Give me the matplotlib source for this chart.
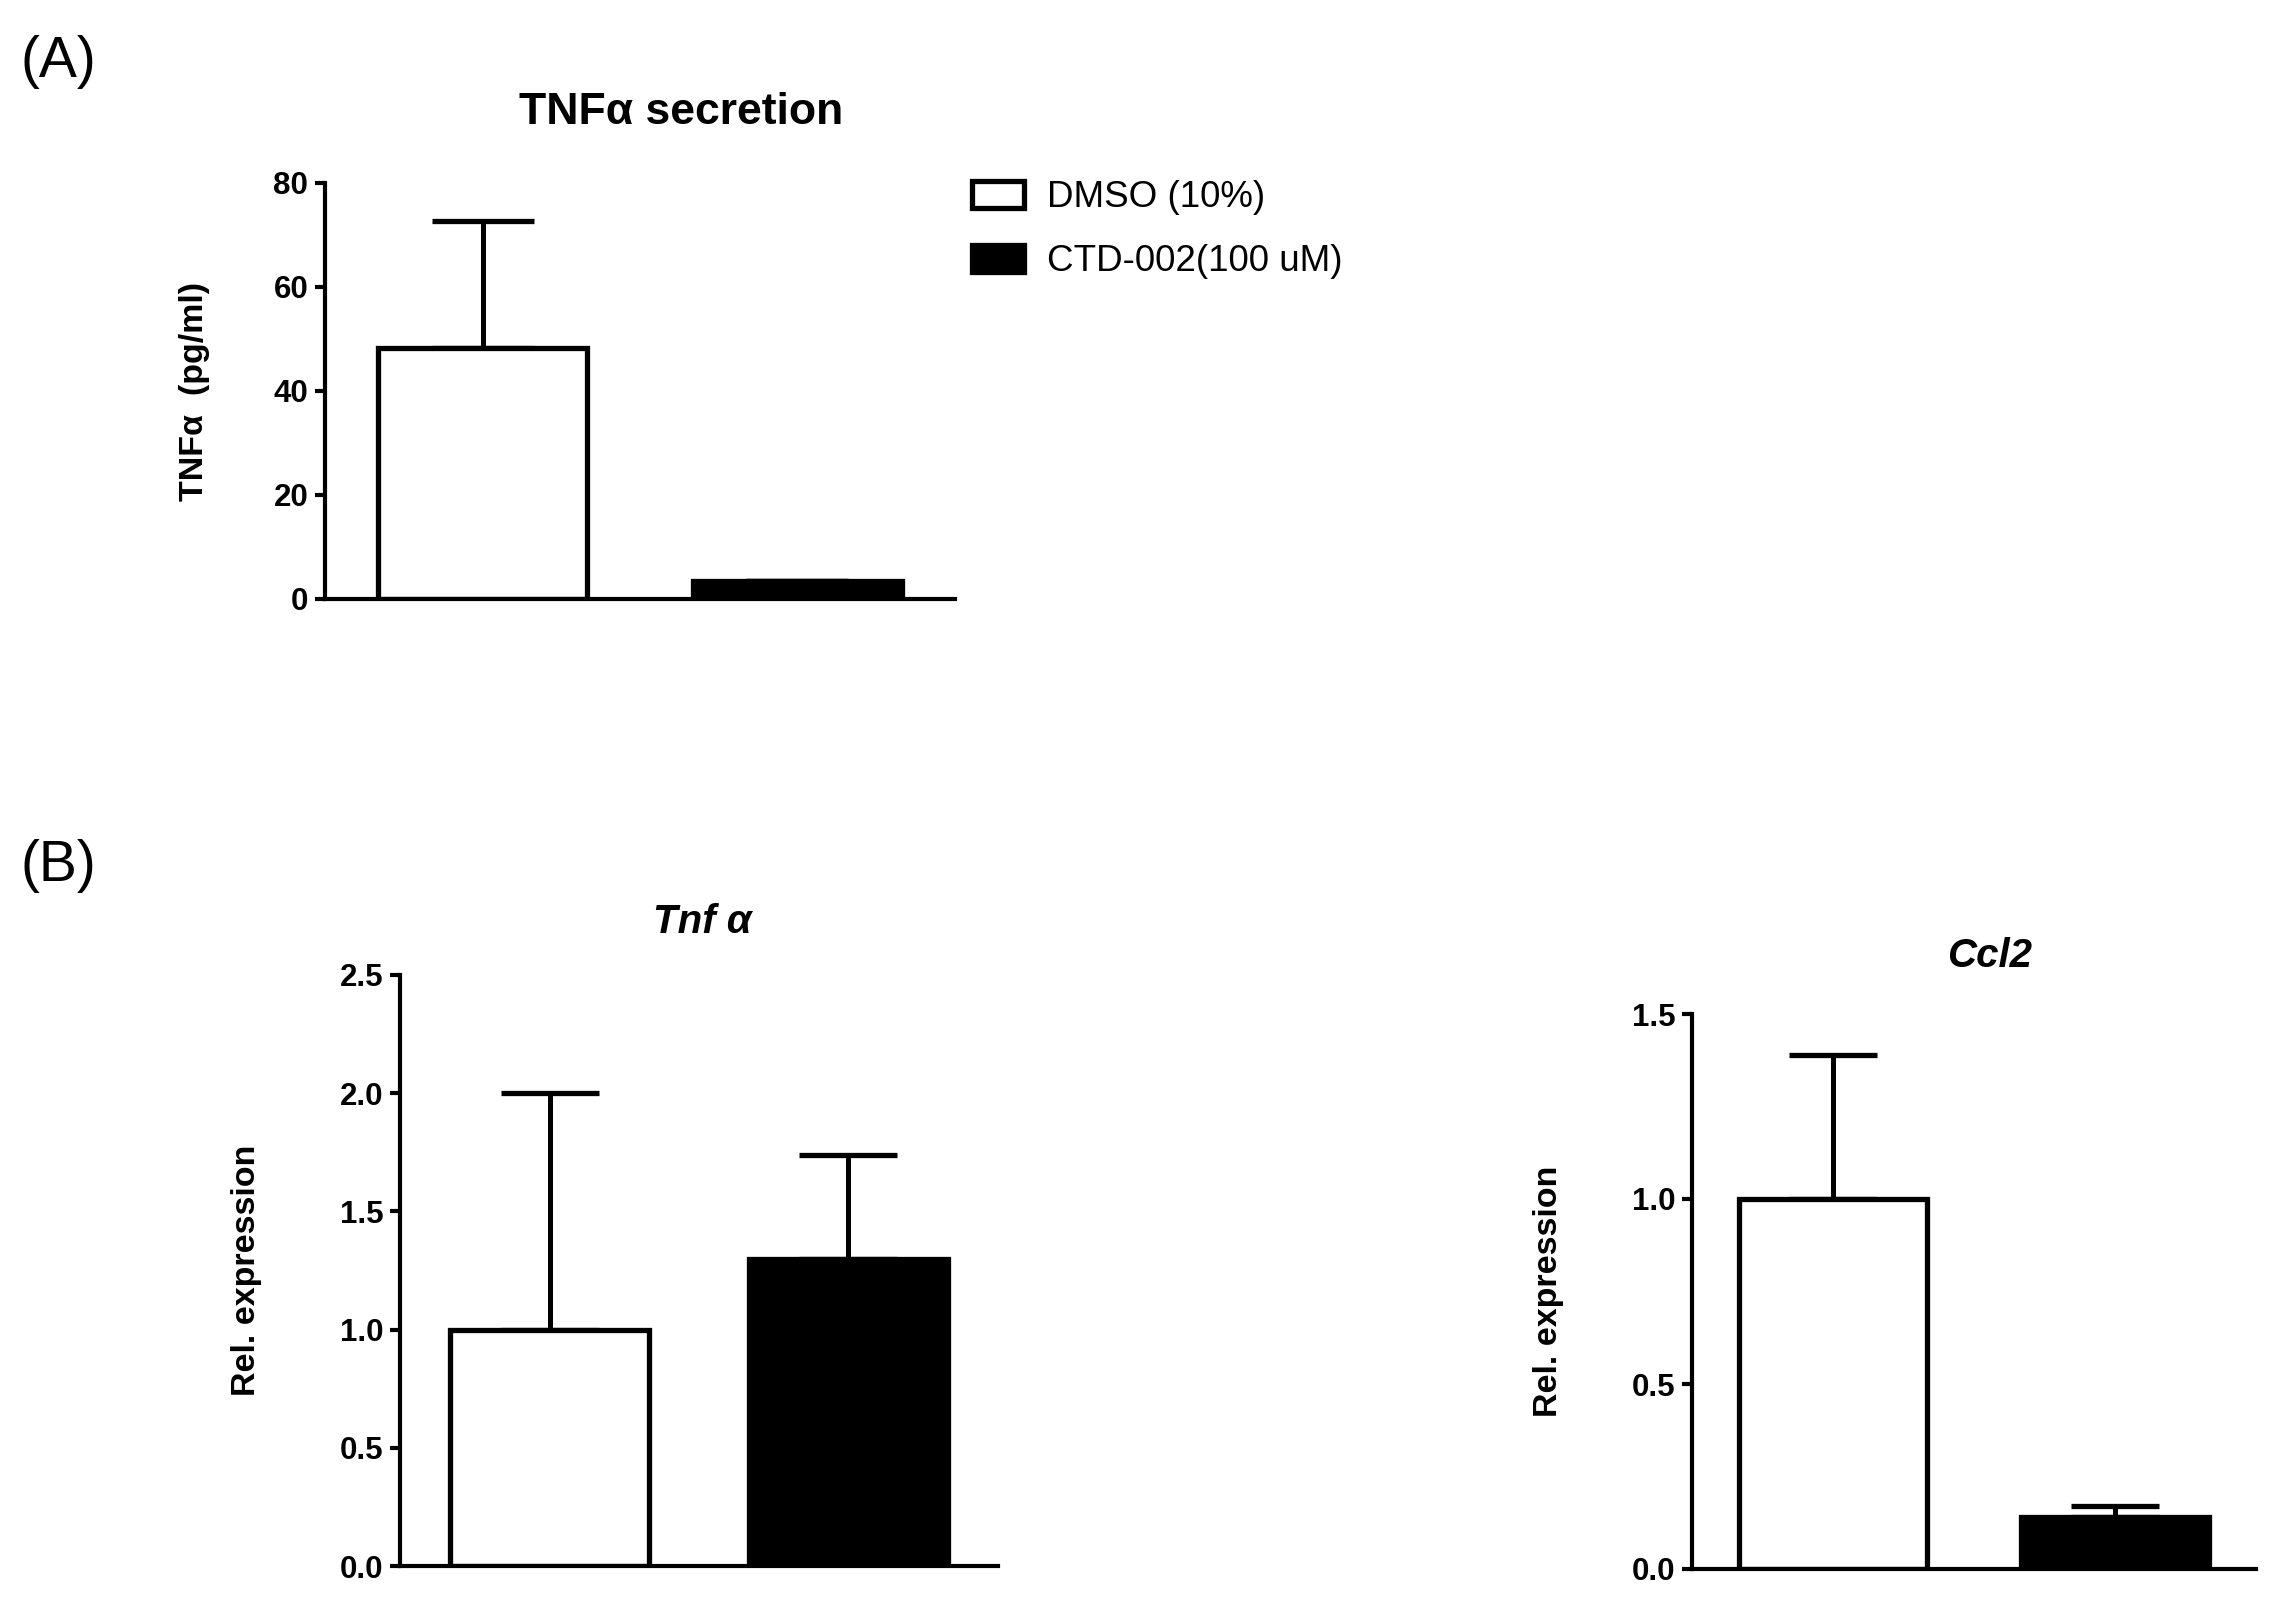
import matplotlib
matplotlib.use('Agg')
import matplotlib.pyplot as plt
import numpy as np

plt.rcParams['font.family'] = ['Liberation Sans', 'DejaVu Sans']

# group labels
groups = ['DMSO (10%)', 'CTD-002(100 uM)']
colors = ['white', 'black']

# (A) TNFa secretion, pg/ml (mean, SD upward)
tnf_secr_mean = [48.3, 3.4]
tnf_secr_err = [24.4, 0.0]

# (B) relative expression
tnfa_mean = [1.0, 1.30]
tnfa_err = [1.0, 0.44]
ccl2_mean = [1.0, 0.14]
ccl2_err = [0.39, 0.03]

W, H = 2281, 1612
fig = plt.figure(figsize=(W / 100, H / 100), dpi=100)


def make_axes(rect, means, errs, ymax, step, fmt, capsize, ylabel, label_x):
    ax = fig.add_axes(rect)
    x = np.array([1, 3])
    ax.errorbar(x, means, yerr=[np.zeros(len(errs)), errs], fmt='none',
                ecolor='black', elinewidth=3.6, capsize=capsize, capthick=3.8,
                zorder=1)
    ax.bar(x, means, width=1.33, color=colors, edgecolor='black',
           linewidth=3.8, zorder=2, label=groups)
    ax.set_xlim(0, 4)
    ax.set_ylim(0, ymax)
    ticks = np.arange(0, ymax + step / 2, step)
    ax.set_yticks(ticks)
    ax.set_yticklabels([fmt.format(v) for v in ticks], fontweight='bold', fontsize=22.5)
    ax.set_xticks([])
    for s in ['top', 'right']:
        ax.spines[s].set_visible(False)
    for s in ['left', 'bottom']:
        ax.spines[s].set_linewidth(3.0)
    ax.tick_params(axis='y', direction='out', length=7, width=3.0, pad=5)
    ax.set_ylabel(ylabel, fontsize=24.5, fontweight='bold')
    ax.yaxis.set_label_coords(label_x, 0.5)
    ax.yaxis.label.set_va('center')
    ax.patch.set_alpha(0)
    return ax


axA = make_axes([325 / W, 1 - 599 / H, 630 / W, 416 / H], tnf_secr_mean, tnf_secr_err,
                80, 20, '{:.0f}', 37, 'TNFα  (pg/ml)', -0.207)
axB1 = make_axes([400 / W, 1 - 1566 / H, 598 / W, 591 / H], tnfa_mean, tnfa_err,
                 2.5, 0.5, '{:.1f}', 35, 'Rel. expression', -0.256)
axB2 = make_axes([1692 / W, 1 - 1569 / H, 564 / W, 555 / H], ccl2_mean, ccl2_err,
                 1.5, 0.5, '{:.1f}', 32, 'Rel. expression', -0.254)

# titles
fig.text(681 / W, 1 - 113 / H, 'TNFα secretion', ha='center', va='center',
         fontsize=32, fontweight='bold')
fig.text(702 / W, 1 - 922 / H, 'Tnf α', ha='center', va='center',
         fontsize=29, fontweight='bold', style='italic')
fig.text(1990 / W, 1 - 956 / H, 'Ccl2', ha='center', va='center',
         fontsize=29, fontweight='bold', style='italic')

# panel letters
fig.text(20 / W, 1 - 62 / H, '(A)', ha='left', va='center', fontsize=41)
fig.text(20 / W, 1 - 866 / H, '(B)', ha='left', va='center', fontsize=41)

# legend
fig.legend(axA.containers[-1].patches, groups, loc='upper left',
           bbox_to_anchor=(972 / W, 1 - 180 / H), frameon=False, fontsize=26.5,
           handlelength=1.4, handleheight=0.75, handletextpad=0.65,
           labelspacing=0.8, borderpad=0, borderaxespad=0)

plt.savefig('out.png', dpi=100)
